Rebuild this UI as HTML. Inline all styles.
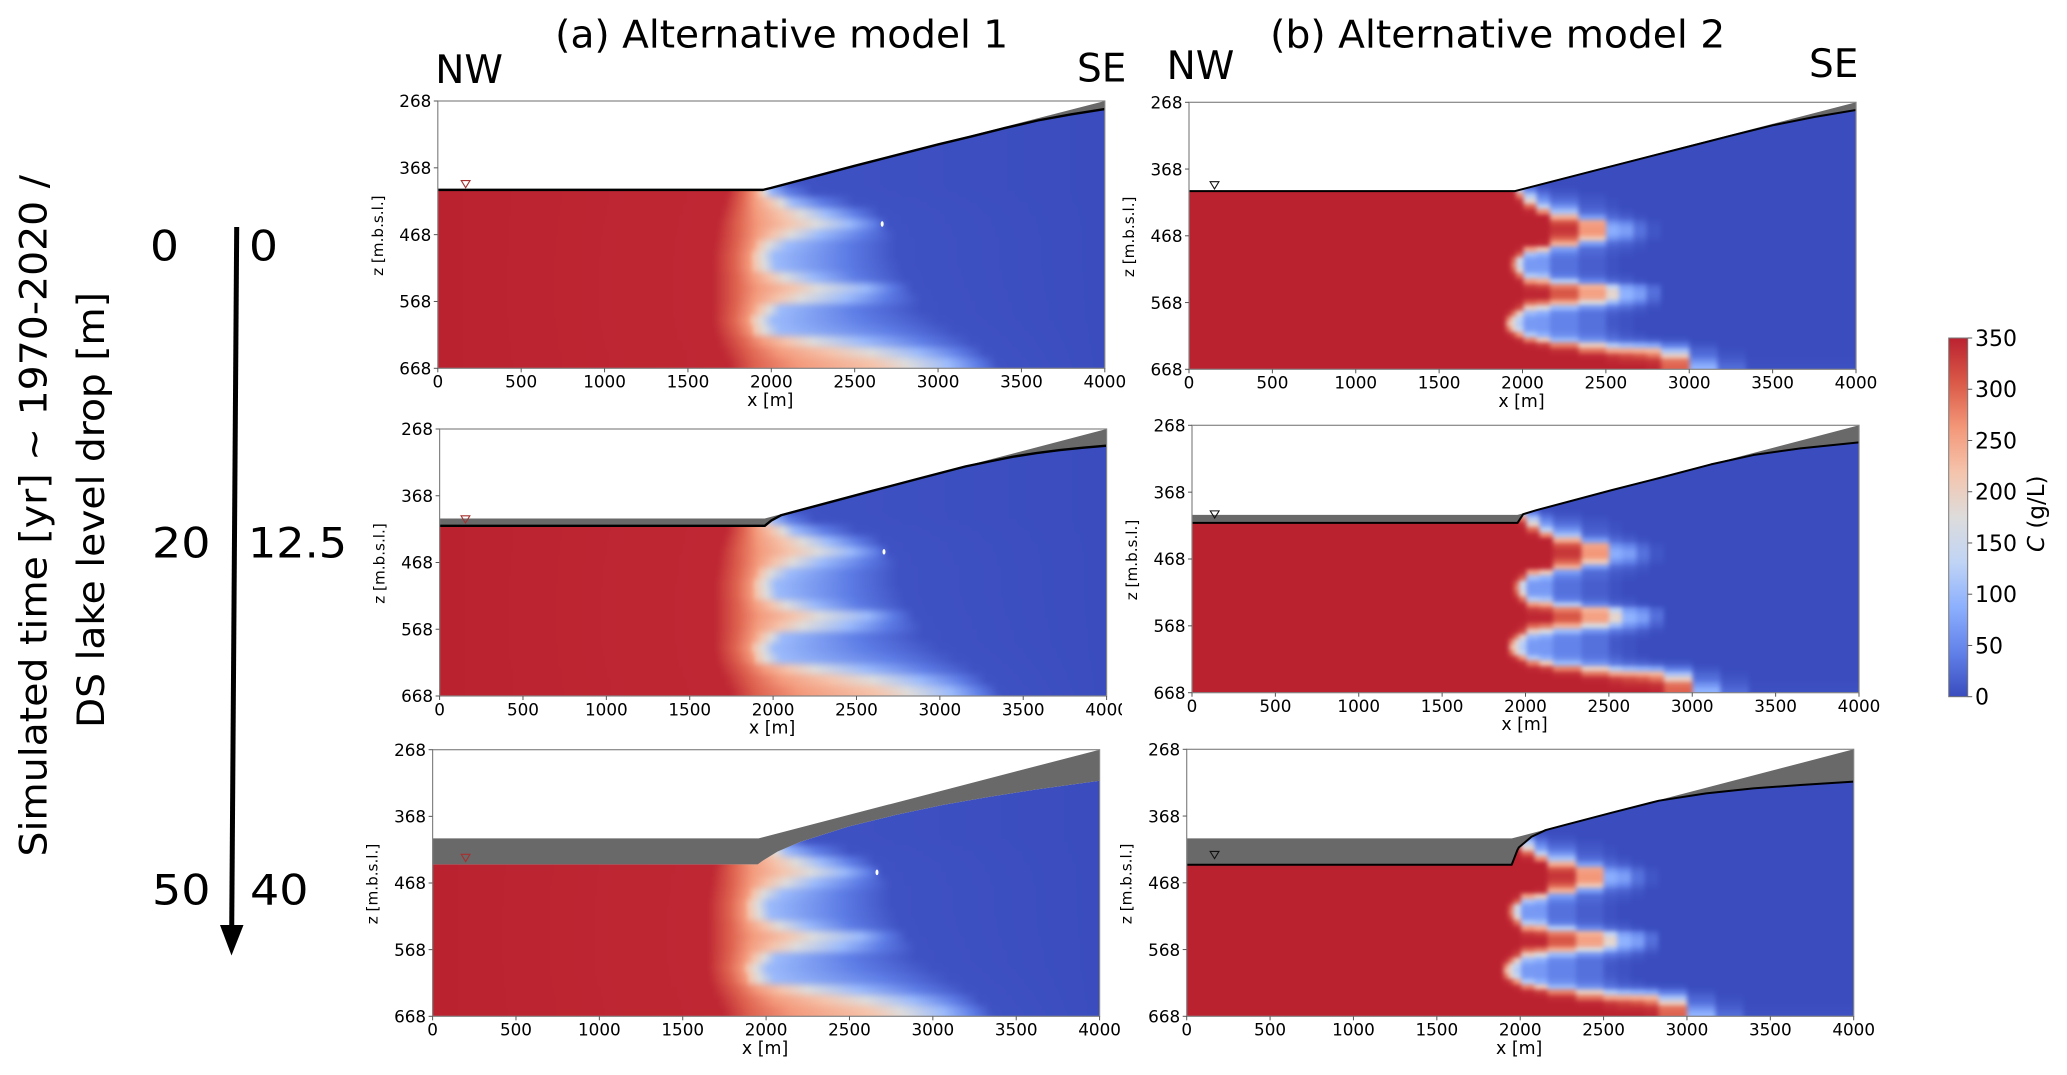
<!DOCTYPE html>
<html lang="en">
<head>
<meta charset="utf-8">
<title>Alternative salinity models</title>
<style>
html,body{margin:0;padding:0;background:#fff;}
svg{display:block;}
text{font-family:"DejaVu Sans","Liberation Sans",sans-serif;fill:#000;}
</style>
</head>
<body>
<svg id="figure" xmlns="http://www.w3.org/2000/svg" width="2067" height="1075" viewBox="0 0 2067 1075">
  <rect x="0" y="0" width="2067" height="1075" fill="#fff"/>
  <g id="panels"></g>
  <rect x="1122" y="698" width="16" height="24" fill="#fff"/>

  <text x="555.2" y="47.7" font-size="38" textLength="453" lengthAdjust="spacingAndGlyphs">(a) Alternative model 1</text>
  <text x="1270.2" y="47.7" font-size="38" textLength="455" lengthAdjust="spacingAndGlyphs">(b) Alternative model 2</text>
  <text x="435.2" y="83" font-size="39">NW</text>
  <text x="1077" y="81.7" font-size="39">SE</text>
  <text x="1166.6" y="79" font-size="39">NW</text>
  <text x="1809" y="77" font-size="39">SE</text>

  <text transform="translate(46.7,856.5) rotate(-90)" font-size="37" textLength="681.5" lengthAdjust="spacingAndGlyphs">Simulated time [yr] ~ 1970-2020 /</text>
  <text transform="translate(104,728) rotate(-90)" font-size="37" textLength="436" lengthAdjust="spacingAndGlyphs">DS lake level drop [m]</text>

  <text x="150" y="260.6" font-size="42" textLength="29" lengthAdjust="spacingAndGlyphs">0</text>
  <text x="249" y="260.6" font-size="42" textLength="29" lengthAdjust="spacingAndGlyphs">0</text>
  <text x="152" y="557.5" font-size="42" textLength="58.5" lengthAdjust="spacingAndGlyphs">20</text>
  <text x="248" y="557.5" font-size="42" textLength="99" lengthAdjust="spacingAndGlyphs">12.5</text>
  <text x="152" y="904.5" font-size="42" textLength="58.5" lengthAdjust="spacingAndGlyphs">50</text>
  <text x="250" y="904.5" font-size="42" textLength="58.5" lengthAdjust="spacingAndGlyphs">40</text>

  <line x1="236.7" y1="227" x2="231.7" y2="930" stroke="#000" stroke-width="5"/>
  <polygon points="220,925 243.5,925 231.5,955.5" fill="#000"/>

  <g id="colorbar"></g>
  <text transform="translate(2044,552) rotate(-90)" font-size="23"><tspan font-style="italic">C</tspan> (g/L)</text>
</svg>

<script>
/* ---------- axis data ---------- */
const xTickLabels = [0, 500, 1000, 1500, 2000, 2500, 3000, 3500, 4000];
const zTickLabels = [268, 368, 468, 568, 668];
const colorbarTickLabels = [0, 50, 100, 150, 200, 250, 300, 350];

/* ---------- colour scale (g/L -> coolwarm) ---------- */
const cmapLevels = [0, 44, 88, 131, 175, 219, 262, 306, 350];
const cmapColors = ['#3a4cbe', '#6282ea', '#8db0fe', '#c0d4f5', '#dddcdc', '#f5c4ac', '#f4987a', '#da5a48', '#bb2230'];

/* ---------- Model 1: x position [m] of each concentration front per depth row ---------- */
const model1FrontLevels = [345, 300, 260, 219, 175, 100, 40, 5];
const model1Z    = [388, 404, 420, 436, 452, 468, 484, 500, 516, 532, 548, 564, 580, 596, 612, 628, 644, 660, 672];
const model1C345 = [1740, 1740, 1720, 1700, 1680, 1670, 1660, 1650, 1650, 1650, 1650, 1650, 1650, 1650, 1660, 1680, 1710, 1740, 1750];
const model1C300 = [1830, 1830, 1820, 1810, 1800, 1800, 1790, 1780, 1780, 1790, 1790, 1790, 1780, 1770, 1790, 1830, 1870, 1900, 1910];
const model1C260 = [1890, 1895, 1900, 1910, 1920, 1910, 1890, 1870, 1870, 1890, 1920, 1900, 1880, 1860, 1880, 1950, 2050, 2150, 2200];
const model1C219 = [1920, 1930, 1990, 2060, 2100, 2010, 1925, 1895, 1900, 1990, 2130, 2040, 1930, 1885, 1900, 2090, 2350, 2600, 2680];
const model1C175 = [1945, 1960, 2060, 2180, 2270, 2120, 1985, 1950, 1960, 2080, 2280, 2180, 1990, 1940, 1960, 2250, 2600, 2800, 2850];
const model1C100 = [1970, 2000, 2130, 2330, 2470, 2290, 2100, 2020, 2030, 2250, 2570, 2450, 2060, 2010, 2050, 2550, 2880, 3060, 3080];
const model1C40  = [2010, 2100, 2300, 2500, 2620, 2550, 2450, 2450, 2450, 2500, 2720, 2680, 2500, 2550, 2700, 2900, 3120, 3230, 3260];
const model1C5   = [2100, 2250, 2500, 2650, 2700, 2750, 2750, 2750, 2780, 2800, 2850, 2900, 2900, 3000, 3100, 3200, 3280, 3350, 3380];
const model1Fronts = [model1C345, model1C300, model1C260, model1C219, model1C175, model1C100, model1C40, model1C5];

/* ---------- Model 2: concentration (g/L) heatmap, rows by depth z, columns by x edges ---------- */
const model2XEdges = [0, 1900, 1930, 1960, 2005, 2085, 2165, 2335, 2500, 2580, 2665, 2745, 2830, 3000, 3170, 3340, 4000];
const model2Z = [392, 400, 408, 416, 424, 432, 440, 448, 456, 464, 472, 480, 488, 496, 504, 512, 520, 528, 536, 544, 552, 560, 568, 576, 584, 592, 600, 608, 616, 624, 632, 640, 648, 656, 664];
const model2C = [
  [350,350,100, 30,  5,  0,  0,  0,  0,  0,  0,  0,  0,  0,  0,  0],
  [350,350,345,150, 50, 15,  5,  0,  0,  0,  0,  0,  0,  0,  0,  0],
  [350,350,350,280,120, 40, 15,  5,  0,  0,  0,  0,  0,  0,  0,  0],
  [350,350,350,340,190, 70, 30, 10,  3,  0,  0,  0,  0,  0,  0,  0],
  [350,350,350,350,300,130, 60, 15,  5,  0,  0,  0,  0,  0,  0,  0],
  [350,350,350,350,345,270,110, 25, 12,  5,  0,  0,  0,  0,  0,  0],
  [350,350,350,350,350,350,240, 70, 25, 15,  5,  0,  0,  0,  0,  0],
  [350,350,350,350,350,350,315,250, 60, 45, 20,  5,  0,  0,  0,  0],
  [350,350,350,350,350,350,335,262, 85, 70, 30,  8,  0,  0,  0,  0],
  [350,350,350,350,350,350,330,262, 85, 70, 30,  8,  0,  0,  0,  0],
  [350,350,350,350,350,350,300,210, 60, 45, 20,  5,  0,  0,  0,  0],
  [350,350,350,350,350,345,240, 70, 25, 18,  8,  0,  0,  0,  0,  0],
  [350,350,350,345,250,210, 70, 25, 12,  8,  3,  0,  0,  0,  0,  0],
  [350,350,345,300,110, 90, 40, 20,  8,  3,  0,  0,  0,  0,  0,  0],
  [350,350,300,160, 70, 65, 30, 15,  5,  0,  0,  0,  0,  0,  0,  0],
  [350,350,280,150, 65, 65, 30, 15,  5,  0,  0,  0,  0,  0,  0,  0],
  [350,350,310,190, 70, 70, 30, 15,  5,  0,  0,  0,  0,  0,  0,  0],
  [350,350,345,290,120,110, 40, 20,  8,  5,  0,  0,  0,  0,  0,  0],
  [350,350,350,345,260,240,120, 50, 25, 15,  6,  0,  0,  0,  0,  0],
  [350,350,350,350,330,320,280,235,130, 70, 50, 20,  0,  0,  0,  0],
  [350,350,350,350,345,345,310,255,190, 90, 70, 30,  0,  0,  0,  0],
  [350,350,350,350,345,345,305,250,185, 90, 70, 25,  0,  0,  0,  0],
  [350,350,350,345,300,285,240,170,100, 60, 40, 15,  0,  0,  0,  0],
  [350,350,345,320,200,170,100, 60, 35, 25, 12,  3,  0,  0,  0,  0],
  [350,340,290,200,100, 85, 50, 30, 15,  8,  4,  0,  0,  0,  0,  0],
  [350,280,190,130, 70, 65, 45, 30, 10,  5,  0,  0,  0,  0,  0,  0],
  [350,230,180,120, 65, 65, 45, 30, 10,  5,  0,  0,  0,  0,  0,  0],
  [350,290,200,140, 70, 65, 45, 30, 12,  6,  0,  0,  0,  0,  0,  0],
  [350,345,320,260,120, 90, 55, 35, 20, 10,  5,  0,  0,  0,  0,  0],
  [350,350,350,340,280,210,100, 60, 35, 25, 20, 15,  8,  0,  0,  0],
  [350,350,350,350,345,330,280,200,120,100, 90, 80, 40,  8,  0,  0],
  [350,350,350,350,350,350,340,290,250,245,240,230,110, 20,  3,  0],
  [350,350,350,350,350,350,350,345,330,320,310,290,200, 30,  8,  0],
  [350,350,350,350,350,350,350,350,345,340,340,335,290, 60, 15,  2],
  [350,350,350,350,350,350,350,350,350,350,350,345,300, 90, 25,  3]
];

/* ---------- Surfaces per panel: ground (top of unsaturated wedge) and water line ---------- */
const a1GroundX = [0, 1950, 4000];
const a1GroundZ = [400, 400, 268];
const a1WaterX  = [0, 1950, 2000, 2500, 3000, 3200, 3400, 3600, 3800, 4000];
const a1WaterZ  = [401, 401, 398, 365, 333, 321, 308.5, 297, 288, 280];

const a2GroundX = [0, 1950, 4000];
const a2GroundZ = [402, 402, 268];
const a2WaterX  = [0, 1950, 1990, 2050, 2590, 2870, 3155, 3300, 3440, 3580, 3720, 3860, 4000];
const a2WaterZ  = [413, 413, 405, 397, 361, 342.5, 324, 316.5, 309.5, 304, 299.5, 296, 293];

const a3GroundX = [0, 1955, 4000];
const a3GroundZ = [401, 401, 268];
const a3WaterX  = [0, 1950, 1983, 2068, 2209, 2492, 2775, 3058, 3341, 3624, 4000];
const a3WaterZ  = [440, 440, 434, 421, 406, 383.5, 366, 351, 338.5, 327.5, 314.5];

const b1GroundX = [0, 1955, 4000];
const b1GroundZ = [400, 400, 268];
const b1WaterX  = [0, 1955, 2500, 3000, 3250, 3500, 3750, 4000];
const b1WaterZ  = [401, 401, 366, 334, 318, 302.5, 290, 279.5];

const b2GroundX = [0, 1952, 4000];
const b2GroundZ = [402, 402, 268];
const b2WaterX  = [0, 1952, 1986, 2065, 2517, 2800, 3112, 3366, 3649, 4000];
const b2WaterZ  = [414, 414, 401, 395, 365, 347, 326.5, 312.5, 302.5, 293.5];

const b3GroundX = [0, 1950, 4000];
const b3GroundZ = [401.5, 401.5, 268];
const b3WaterX  = [0, 1949, 1983, 1992, 2068, 2153, 2266, 2549, 2832, 3115, 3398, 3680, 4000];
const b3WaterZ  = [441, 441, 419, 415, 399, 389, 381.5, 363, 345, 334, 326.5, 321.5, 316.5];

/* ---------- Lake level marker and observation spot ---------- */
const lakeMarkerX = { a1: 167, a2: 155, a3: 198, b1: 153, b2: 136, b3: 167 };
const lakeMarkerZ = { a1: 387, a2: 398, a3: 425, b1: 387, b2: 396, b3: 421 };
const spotX = 2665;
const spotZ = 452;

const SVGNS = 'http://www.w3.org/2000/svg';
const panelRoot = document.getElementById('panels');
const defs = document.createElementNS(SVGNS, 'defs');
document.getElementById('figure').insertBefore(defs, panelRoot);

function make(tag, attrs, parent) {
  const el = document.createElementNS(SVGNS, tag);
  for (const k in attrs) el.setAttribute(k, attrs[k]);
  if (parent) parent.appendChild(el);
  return el;
}

function hexRgb(h) {
  return [parseInt(h.slice(1, 3), 16), parseInt(h.slice(3, 5), 16), parseInt(h.slice(5, 7), 16)];
}

function cmap(c) {
  if (c <= cmapLevels[0]) return cmapColors[0];
  for (let i = 1; i < cmapLevels.length; i++) {
    if (c <= cmapLevels[i]) {
      const t = (c - cmapLevels[i - 1]) / (cmapLevels[i] - cmapLevels[i - 1]);
      const a = hexRgb(cmapColors[i - 1]);
      const b = hexRgb(cmapColors[i]);
      const m = a.map(function (v, j) { return Math.round(v + (b[j] - v) * t); });
      return 'rgb(' + m.join(',') + ')';
    }
  }
  return cmapColors[cmapColors.length - 1];
}

function drawPanel(p) {
  const xMin = 0, xMax = 4000, zMin = 268, zMax = 668;
  const xS = function (x) { return p.left + (x - xMin) / (xMax - xMin) * p.width; };
  const zS = function (z) { return p.top + (z - zMin) / (zMax - zMin) * p.height; };

  const g = make('g', {}, panelRoot);
  
  

  const plotClip = make('clipPath', { id: 'plot-' + p.id }, defs);
  make('rect', { x: p.left, y: p.top, width: p.width, height: p.height }, plotClip);

  const fieldClip = make('clipPath', { id: 'field-' + p.id }, defs);
  let fieldPts = p.waterX.map(function (x, i) { return xS(x) + ',' + zS(p.waterZ[i]); });
  fieldPts.push(xS(xMax) + ',' + zS(zMax), xS(xMin) + ',' + zS(zMax));
  make('polygon', { points: fieldPts.join(' ') }, fieldClip);

  const blur = make('filter', {
    id: 'blur-' + p.id, filterUnits: 'userSpaceOnUse',
    x: p.left - 40, y: p.top - 40, width: p.width + 80, height: p.height + 80,
    'color-interpolation-filters': 'sRGB'
  }, defs);
  make('feGaussianBlur', { stdDeviation: p.blur }, blur);

  const clipped = make('g', { 'clip-path': 'url(#plot-' + p.id + ')' }, g);
  
  

  const fieldOuter = make('g', { 'clip-path': 'url(#field-' + p.id + ')' }, clipped);
  
  
  const field = make('g', { filter: 'url(#blur-' + p.id + ')' }, fieldOuter);

  const rowTop = function (r) { return r === 0 ? zMin - 60 : (p.rowZ[r - 1] + p.rowZ[r]) / 2; };
  const rowBot = function (r) { return r === p.rowZ.length - 1 ? zMax + 60 : (p.rowZ[r + 1] + p.rowZ[r]) / 2; };

  p.rowZ.forEach(function (z, r) {
    if (p.fronts) {
      /* smooth field: one row with a gradient running through the concentration fronts */
      const grad = make('linearGradient', {
        id: 'row-' + p.id + '-' + r, gradientUnits: 'userSpaceOnUse',
        x1: xS(xMin), x2: xS(xMax), y1: 0, y2: 0
      }, defs);
      make('stop', { offset: 0, 'stop-color': cmap(350) }, grad);
      p.fronts.forEach(function (front, k) {
        make('stop', {
          offset: (front[r] - xMin) / (xMax - xMin),
          'stop-color': cmap(p.levels[k])
        }, grad);
      });
      make('stop', { offset: 1, 'stop-color': cmap(0) }, grad);
      const rowCell = make('rect', {
        x: p.left - 35, width: p.width + 70,
        y: zS(rowTop(r)), height: zS(rowBot(r)) - zS(rowTop(r)) + 0.6,
        fill: 'url(#row-' + p.id + '-' + r + ')',
        'shape-rendering': 'crispEdges'
      }, field);
      
      
    } else {
      /* blocky field: one heatmap cell per row and column */
      p.matrix[r].forEach(function (c, k) {
        const x0 = k === 0 ? p.left - 35 : xS(p.xEdges[k]);
        const x1 = k === p.matrix[r].length - 1 ? p.left + p.width + 35 : xS(p.xEdges[k + 1]);
        const cell = make('rect', {
          x: x0, width: x1 - x0 + 0.6,
          y: zS(rowTop(r)), height: zS(rowBot(r)) - zS(rowTop(r)) + 0.6,
          fill: cmap(c),
          'shape-rendering': 'crispEdges'
        }, field);
        
        
      });
    }
  });

  if (p.spot) {
    const spot = make('ellipse', { cx: xS(spotX), cy: zS(spotZ), rx: 1.5, ry: 2.8, fill: '#fff' }, clipped);
    
    
  }

  let wedge = p.groundX.map(function (x, i) { return xS(x) + ',' + zS(p.groundZ[i]); });
  for (let i = p.waterX.length - 1; i >= 0; i--) wedge.push(xS(p.waterX[i]) + ',' + zS(p.waterZ[i]));
  const grey = make('polygon', { points: wedge.join(' '), fill: '#696969' }, clipped);
  
  

  if (p.line > 0) {
    const wt = make('polyline', {
      points: p.waterX.map(function (x, i) { return xS(x) + ',' + zS(p.waterZ[i]); }).join(' '),
      fill: 'none', stroke: '#000', 'stroke-width': p.line, 'stroke-linejoin': 'round'
    }, clipped);
    
    
  }

  const mx = xS(p.markerX), my = zS(p.markerZ);
  const tri = make('polygon', {
    points: (mx - 4.4) + ',' + my + ' ' + (mx + 4.4) + ',' + my + ' ' + mx + ',' + (my + 7.2),
    fill: 'none', stroke: p.markerColor, 'stroke-width': 1.1
  }, g);
  
  

  const frame = make('rect', {
    x: p.left, y: p.top, width: p.width, height: p.height,
    fill: 'none', stroke: '#858585', 'stroke-width': 1.2
  }, g);
  
  

  xTickLabels.forEach(function (v) {
    const tick = make('line', {
      x1: xS(v), x2: xS(v), y1: p.top + p.height, y2: p.top + p.height + 4,
      stroke: '#555', 'stroke-width': 1
    }, g);
    
    
    const lab = make('text', {
      x: xS(v), y: p.top + p.height + 19.4, 'font-size': 16.8, 'text-anchor': 'middle'
    }, g);
    lab.textContent = v;
    
    
  });
  const xTitle = make('text', {
    x: p.left + p.width / 2 - 1, y: p.top + p.height + 37.5, 'font-size': 17.4, 'text-anchor': 'middle'
  }, g);
  xTitle.textContent = 'x [m]';
  
  

  zTickLabels.forEach(function (v) {
    const tick = make('line', {
      x1: p.left - 4, x2: p.left, y1: zS(v), y2: zS(v),
      stroke: '#555', 'stroke-width': 1
    }, g);
    
    
    const lab = make('text', {
      x: p.left - 6.5, y: zS(v) + 6.2, 'font-size': 16.8, 'text-anchor': 'end'
    }, g);
    lab.textContent = v;
    
    
  });
  const cy = p.top + p.height / 2 + 1;
  const zTitle = make('text', {
    transform: 'translate(' + (p.left - 55) + ',' + cy + ') rotate(-90)',
    'font-size': 15.2, 'text-anchor': 'middle'
  }, g);
  zTitle.textContent = 'z [m.b.s.l.]';
  
  
}

const RED_MARK = '#a5302f';
const panelList = [
  { id: 'a1', left: 437.8, top: 101, width: 667, height: 267.3, rowZ: model1Z, fronts: model1Fronts, levels: model1FrontLevels, blur: '1.5 3.5', groundX: a1GroundX, groundZ: a1GroundZ, waterX: a1WaterX, waterZ: a1WaterZ, line: 2.4, markerX: lakeMarkerX.a1, markerZ: lakeMarkerZ.a1, markerColor: RED_MARK, spot: true },
  { id: 'a2', left: 439.6, top: 429, width: 667, height: 267, rowZ: model1Z, fronts: model1Fronts, levels: model1FrontLevels, blur: '1.5 3.5', groundX: a2GroundX, groundZ: a2GroundZ, waterX: a2WaterX, waterZ: a2WaterZ, line: 2.4, markerX: lakeMarkerX.a2, markerZ: lakeMarkerZ.a2, markerColor: RED_MARK, spot: true },
  { id: 'a3', left: 432.6, top: 749.7, width: 667, height: 266.6, rowZ: model1Z, fronts: model1Fronts, levels: model1FrontLevels, blur: '1.5 3.5', groundX: a3GroundX, groundZ: a3GroundZ, waterX: a3WaterX, waterZ: a3WaterZ, line: 0, markerX: lakeMarkerX.a3, markerZ: lakeMarkerZ.a3, markerColor: RED_MARK, spot: true },
  { id: 'b1', left: 1189, top: 102.3, width: 667, height: 267, rowZ: model2Z, matrix: model2C, xEdges: model2XEdges, blur: '2.5 2', groundX: b1GroundX, groundZ: b1GroundZ, waterX: b1WaterX, waterZ: b1WaterZ, line: 2, markerX: lakeMarkerX.b1, markerZ: lakeMarkerZ.b1, markerColor: '#111', spot: false },
  { id: 'b2', left: 1192, top: 425.3, width: 667, height: 267.4, rowZ: model2Z, matrix: model2C, xEdges: model2XEdges, blur: '2.5 2', groundX: b2GroundX, groundZ: b2GroundZ, waterX: b2WaterX, waterZ: b2WaterZ, line: 2, markerX: lakeMarkerX.b2, markerZ: lakeMarkerZ.b2, markerColor: '#111', spot: false },
  { id: 'b3', left: 1186.7, top: 749.3, width: 667, height: 267, rowZ: model2Z, matrix: model2C, xEdges: model2XEdges, blur: '2.5 2', groundX: b3GroundX, groundZ: b3GroundZ, waterX: b3WaterX, waterZ: b3WaterZ, line: 2, markerX: lakeMarkerX.b3, markerZ: lakeMarkerZ.b3, markerColor: '#111', spot: false }
];
panelList.forEach(drawPanel);

/* ---------- colour bar ---------- */
(function () {
  const cb = document.getElementById('colorbar');
  const left = 1948.7, right = 1967.7, top = 338, bottom = 696.7;
  const cS = function (c) { return bottom - c / 350 * (bottom - top); };
  const grad = make('linearGradient', { id: 'colorbar-gradient', x1: 0, x2: 0, y1: 1, y2: 0 }, defs);
  cmapLevels.forEach(function (lv, i) {
    make('stop', { offset: lv / 350, 'stop-color': cmapColors[i] }, grad);
  });
  const bar = make('rect', {
    x: left, y: top, width: right - left, height: bottom - top,
    fill: 'url(#colorbar-gradient)', stroke: '#777', 'stroke-width': 1
  }, cb);
  
  
  colorbarTickLabels.forEach(function (v) {
    const tick = make('line', { x1: right, x2: right + 4.5, y1: cS(v), y2: cS(v), stroke: '#555', 'stroke-width': 1 }, cb);
    
    
    const lab = make('text', { x: 1975, y: cS(v) + 8, 'font-size': 22 }, cb);
    lab.textContent = v;
    
    
  });
})();
</script>
</body>
</html>
